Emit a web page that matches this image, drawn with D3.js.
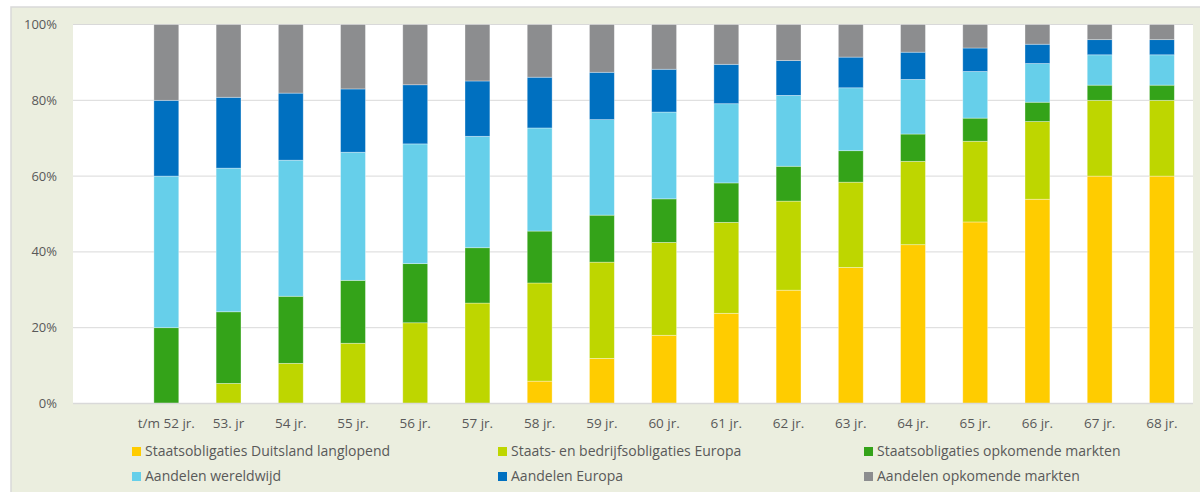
<!DOCTYPE html>
<html>
<head>
<meta charset="utf-8">
<script src="https://cdn.jsdelivr.net/npm/d3@7"></script>
<style>
  body { margin: 0; background: #fff; }
  svg { display: block; font-family: "Open Sans", sans-serif; }
</style>
</head>
<body>
<div id="chart"></div>
<script>
// categories (first slot is empty in the original)
const categories = ["", "t/m 52 jr.", "53. jr", "54 jr.", "55 jr.", "56 jr.", "57 jr.", "58 jr.", "59 jr.",
  "60 jr.", "61 jr.", "62 jr.", "63 jr.", "64 jr.", "65 jr.", "66 jr.", "67 jr.", "68 jr."]

const seriesNames = ["Staatsobligaties Duitsland langlopend", "Staats- en bedrijfsobligaties Europa",
  "Staatsobligaties opkomende markten", "Aandelen wereldwijd", "Aandelen Europa", "Aandelen opkomende markten"]

// values in %, one per category
const duitsland   = [0, 0, 0, 0, 0, 0, 0, 5.9, 11.9, 18.0, 23.8, 29.9, 35.9, 41.9, 47.9, 53.9, 60, 60]
const europaObl   = [0, 0, 5.3, 10.6, 15.9, 21.3, 26.5, 25.9, 25.4, 24.5, 24.0, 23.5, 22.5, 22.0, 21.3, 20.5, 20, 20]
const opkomendObl = [0, 20, 18.9, 17.7, 16.6, 15.6, 14.6, 13.7, 12.4, 11.5, 10.4, 9.2, 8.3, 7.2, 6.1, 5.1, 4, 4]
const wereldwijd  = [0, 40, 37.9, 35.9, 33.8, 31.6, 29.4, 27.2, 25.2, 22.9, 20.9, 18.7, 16.6, 14.4, 12.3, 10.2, 8, 8]
const europaAand  = [0, 20, 18.7, 17.7, 16.7, 15.6, 14.6, 13.4, 12.5, 11.3, 10.4, 9.2, 8.1, 7.2, 6.2, 5.1, 4, 4]
const opkomendAand = [0, 20, 19.2, 18.1, 17.0, 15.9, 14.9, 13.9, 12.6, 11.8, 10.5, 9.5, 8.6, 7.3, 6.2, 5.2, 4, 4]

const yTicks = [0, 20, 40, 60, 80, 100]
const colors = ["#ffcc00", "#bed600", "#34a319", "#66cfea", "#0070c0", "#8c8d8f"]

const W = 1200, H = 492
const plot = { left: 73, right: 1193, top: 24.5, bottom: 403.5 }

const allSeries = [duitsland, europaObl, opkomendObl, wereldwijd, europaAand, opkomendAand]
const rows = categories.map((c, i) => {
  const r = { cat: c }
  seriesNames.forEach((s, k) => r[s] = allSeries[k][i])
  return r
})
const stacked = d3.stack().keys(seriesNames)(rows)

const svg = d3.select("#chart").append("svg").attr("width", W).attr("height", H)

// frame
svg.append("rect").attr("x", 11).attr("y", 7).attr("width", W).attr("height", H)
  .attr("fill", "#ebeedf").attr("stroke", "#d9d9d9").attr("stroke-width", 1.5)

svg.append("rect").attr("x", plot.left).attr("y", plot.top)
  .attr("width", plot.right - plot.left).attr("height", plot.bottom - plot.top)
  .attr("fill", "#fff")

const x = d3.scaleBand().domain(categories).range([plot.left, plot.right]).paddingInner(0.6).paddingOuter(0.3)
const y = d3.scaleLinear().domain([0, 100]).range([plot.bottom, plot.top])

// gridlines
svg.append("g").selectAll("line").data(yTicks.filter(t => t > 0)).enter().append("line")
  .attr("x1", plot.left).attr("x2", plot.right)
  .attr("y1", d => y(d)).attr("y2", d => y(d))
  .attr("stroke", "#d9d9d9").attr("stroke-width", 1)

// bars
svg.append("g").selectAll("g").data(stacked).enter().append("g")
  .attr("fill", (d, i) => colors[i])
  .selectAll("rect").data(d => d.filter(p => p[1] - p[0] > 0)).enter().append("rect")
  .attr("x", d => x(d.data.cat))
  .attr("width", x.bandwidth())
  .attr("y", d => y(d[1]))
  .attr("height", d => y(d[0]) - y(d[1]))
  .attr("stroke", "#fff").attr("stroke-opacity", 0.45).attr("stroke-width", 0.75)

// x axis line
svg.append("line").attr("x1", plot.left).attr("x2", plot.right)
  .attr("y1", plot.bottom).attr("y2", plot.bottom)
  .attr("stroke", "#d9d9d9").attr("stroke-width", 1.5)

// y labels
svg.append("g").selectAll("text").data(yTicks).enter().append("text")
  .attr("x", 57).attr("y", d => y(d)).attr("dy", "0.35em")
  .attr("text-anchor", "end").attr("font-size", 13).attr("fill", "#595959")
  .text(d => d + "%")

// x labels
svg.append("g").selectAll("text").data(categories).enter().append("text")
  .attr("x", d => x(d) + x.bandwidth() / 2).attr("y", 423).attr("dy", "0.35em")
  .attr("text-anchor", "middle").attr("font-size", 13.5).attr("fill", "#595959")
  .text(d => d)

// legend
const legendPos = [[132, 451.5], [498, 451.5], [864, 451.5], [132, 476.5], [498, 476.5], [864, 476.5]]
const legend = svg.append("g").selectAll("g").data(seriesNames).enter().append("g")
  .attr("transform", (d, i) => "translate(" + legendPos[i][0] + "," + legendPos[i][1] + ")")
legend.append("rect").attr("x", 0).attr("y", -4.5).attr("width", 9).attr("height", 9)
  .attr("fill", (d, i) => colors[i])
legend.append("text").attr("x", 13).attr("dy", "0.35em")
  .attr("font-size", 14).attr("fill", "#595959").text(d => d)
</script>
</body>
</html>
